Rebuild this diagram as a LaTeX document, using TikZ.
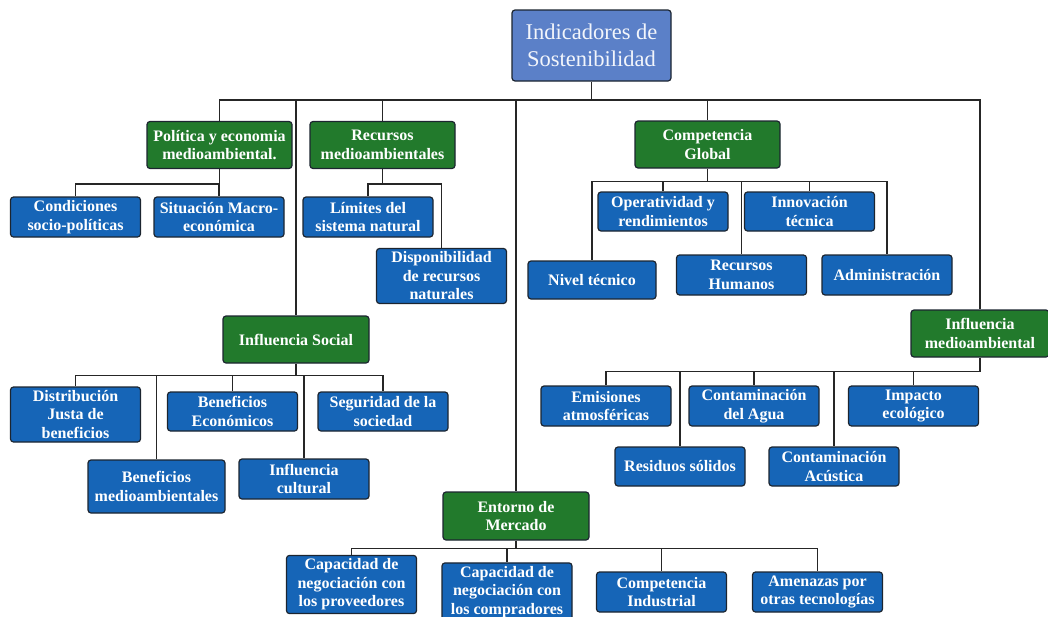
\documentclass[tikz,border=0pt]{standalone}
\usepackage{fontspec}
\setmainfont{Liberation Serif}
\usetikzlibrary{positioning}

\definecolor{azulraiz}{HTML}{5B80C8}
\definecolor{verdegrupo}{HTML}{227A2C}
\definecolor{azulhoja}{HTML}{1665B7}
\definecolor{borde}{HTML}{1C2530}

\begin{document}
\begin{tikzpicture}[
		x=1pt, y=-1pt,
		raiz/.style={draw=borde, line width=1.2pt, rounded corners=3pt, fill=azulraiz, text=white!92!azulraiz, align=center, minimum width=159pt, minimum height=71pt, font=\fontsize{22.5}{27}\selectfont},
		grupo/.style={draw=borde, line width=1.2pt, rounded corners=3pt, fill=verdegrupo, text=white, align=center, inner xsep=1pt, minimum width=145pt, minimum height=47pt, font=\bfseries\fontsize{16}{18.5}\selectfont},
		hoja/.style={draw=borde, line width=1.2pt, rounded corners=3pt, fill=azulhoja, text=white, align=center, inner xsep=1pt, minimum width=130pt, minimum height=40pt, font=\bfseries\fontsize{16}{18.5}\selectfont},
		linea/.style={draw=black!85, line width=1.3pt},
	]
		\useasboundingbox (0,0) rectangle (1048,616);

		\node[raiz] (titulo) at (591.5,45.5) {Indicadores de\\Sostenibilidad};

		\node[grupo] (politica) at (219.5,145) {Política y economia\\medioambiental.};
		\node[grupo] (recursos) at (382.5,145) {Recursos\\medioambientales};
		\node[grupo] (competencia) at (707.5,144.5) {Competencia\\Global};
		\node[grupo, minimum width=146pt] (social) at (296,339.5) {Influencia Social};
		\node[grupo, minimum width=138pt] (medioamb) at (980,333.5) {Influencia\\medioambiental};
		\node[grupo, minimum width=146pt, minimum height=48pt] (entorno) at (516,516) {Entorno de\\Mercado};

		\node[hoja] (condiciones) at (75.5,217) {Condiciones\\socio-políticas};
		\node[hoja] (situacion) at (219,217) {Situación Macro-\\económica};
		\node[hoja] (limites) at (368,217) {Límites del\\sistema natural};
		\node[hoja, minimum height=54pt] (disponibilidad) at (441.5,276) {Disponibilidad\\de recursos\\naturales};

		\node[hoja, minimum height=39pt] (operatividad) at (663,211.5) {Operatividad y\\rendimientos};
		\node[hoja, minimum height=39pt] (innovacion) at (809.5,211.5) {Innovación\\técnica};
		\node[hoja, minimum width=128pt, minimum height=38pt] (nivel) at (592,280) {Nivel técnico};
		\node[hoja] (rrhh) at (741.5,275) {Recursos\\Humanos};
		\node[hoja] (administracion) at (887,275) {Administración};

		\node[hoja] (emisiones) at (606,406) {Emisiones\\atmosféricas};
		\node[hoja] (agua) at (754,406) {Contaminación\\del Agua};
		\node[hoja] (impacto) at (913.5,406) {Impacto\\ecológico};
		\node[hoja, minimum height=39pt] (residuos) at (680,466.5) {Residuos sólidos};
		\node[hoja, minimum height=39pt] (acustica) at (834,466.5) {Contaminación\\Acústica};

		\node[hoja, minimum height=55pt] (distribucion) at (75.5,414.5) {Distribución\\Justa de\\beneficios};
		\node[hoja, minimum height=39pt] (beneconomicos) at (232.5,411.5) {Beneficios\\Económicos};
		\node[hoja, minimum height=39pt] (seguridad) at (383,411.5) {Seguridad de la\\sociedad};
		\node[hoja, minimum width=137pt, minimum height=53pt] (benmedio) at (156.5,486.5) {Beneficios\\medioambientales};
		\node[hoja] (cultural) at (304,479) {Influencia\\cultural};

		\node[hoja, minimum height=55pt] (capprov) at (351.5,584.5) {Capacidad de\\negociación con\\los proveedores};
		\node[hoja, minimum height=56pt] (capcomp) at (507,592) {Capacidad de\\negociación con\\los compradores};
		\node[hoja] (compind) at (661.5,592) {Competencia\\Industrial};
		\node[hoja] (amenazas) at (817.5,592) {Amenazas por\\otras tecnologías};

		\path (titulo.south |- 0,100) coordinate (bus);
		\draw[linea] (titulo.south) -- (bus);
		\draw[linea] (politica.north) -- (politica.north |- bus) -| (medioamb.north);
		\foreach \g in {social,recursos,entorno,competencia}
			\draw[linea] (bus) -| (\g.north);

		\path (politica.south) ++(0,15) coordinate (bpol);
		\draw[linea] (politica.south) -- (bpol);
		\foreach \h in {condiciones,situacion}
			\draw[linea] (bpol) -| (\h.north);

		\path (recursos.south) ++(0,15) coordinate (brec);
		\draw[linea] (recursos.south) -- (brec);
		\foreach \h in {limites,disponibilidad}
			\draw[linea] (brec) -| (\h.north);

		\path (competencia.south) ++(0,13) coordinate (bcom);
		\draw[linea] (competencia.south) -- (bcom);
		\foreach \h in {nivel,operatividad,rrhh,innovacion,administracion}
			\draw[linea] (bcom) -| (\h.north);

		\path (medioamb.south) ++(0,14) coordinate (bmed);
		\draw[linea] (medioamb.south) -- (bmed);
		\foreach \h in {emisiones,residuos,agua,acustica,impacto}
			\draw[linea] (bmed) -| (\h.north);

		\path (social.south) ++(0,12) coordinate (bsoc);
		\draw[linea] (social.south) -- (bsoc);
		\foreach \h in {distribucion,benmedio,beneconomicos,cultural,seguridad}
			\draw[linea] (bsoc) -| (\h.north);

		\path (entorno.south) ++(0,8) coordinate (bent);
		\draw[linea] (entorno.south) -- (bent);
		\foreach \h in {capprov,capcomp,compind,amenazas}
			\draw[linea] (bent) -| (\h.north);
	\end{tikzpicture}
\end{document}
